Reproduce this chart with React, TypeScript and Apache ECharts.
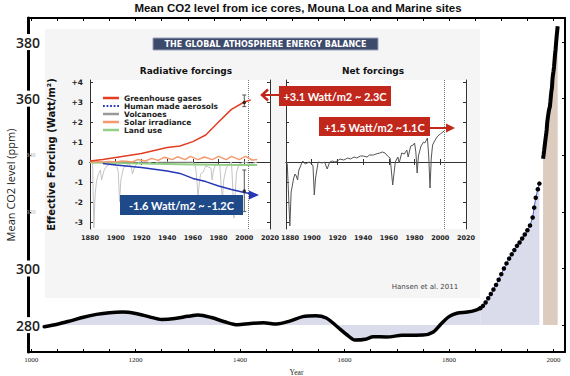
import React, { useEffect, useRef } from "react";
import * as echarts from "echarts";

// ---------- main chart data (year, ppm) ----------
const iceCoreEarly: [number, number][] = [
  [1025, 279.4], [1050, 280.3], [1075, 281.5], [1100, 282.8], [1125, 283.8], [1150, 284.4],
  [1175, 284.6], [1200, 284.1], [1225, 283.0], [1250, 282.0], [1275, 282.3], [1300, 283.1],
  [1320, 283.6], [1345, 282.7], [1370, 281.2], [1395, 280.1], [1420, 280.6], [1445, 280.8],
  [1470, 280.4], [1495, 281.4], [1520, 283.0], [1545, 283.3], [1565, 282.5], [1585, 279.6],
  [1605, 276.5], [1620, 274.7], [1640, 275.0], [1655, 275.9], [1680, 275.8], [1710, 276.4],
  [1750, 276.5], [1770, 277.6], [1785, 280.5], [1800, 283.0], [1815, 284.2], [1835, 284.6],
  [1850, 285.2], [1860, 286.0],
];
const iceCoreLate: [number, number][] = [
  [1860, 286.0], [1865, 286.8], [1870, 288.0], [1875, 289.5], [1880, 291.0], [1885, 292.6],
  [1890, 294.2], [1895, 296.0], [1900, 298.0], [1905, 300.0], [1910, 301.8], [1915, 303.5],
  [1920, 305.0], [1925, 306.5], [1930, 308.0], [1935, 309.2], [1940, 310.6], [1945, 312.0],
  [1950, 313.5], [1955, 315.2], [1960, 318.0], [1963, 321.5], [1966, 325.0], [1970, 328.0],
  [1973, 330.0],
];
const maunaLoa: [number, number][] = [
  [1980, 338.8], [1981, 340.1], [1982, 341.5], [1983, 343.1], [1984, 344.7], [1985, 346.1],
  [1986, 347.4], [1987, 349.2], [1988, 351.6], [1989, 353.1], [1990, 354.4], [1991, 355.6],
  [1992, 356.5], [1993, 357.1], [1994, 358.9], [1995, 360.9], [1996, 362.7], [1997, 363.8],
  [1998, 366.8], [1999, 368.5], [2000, 369.7], [2001, 371.3], [2002, 373.5], [2003, 375.8],
  [2004, 377.5], [2005, 379.8], [2006, 381.9], [2007, 383.8], [2008, 385.6],
];
const co2Labels = [280, 300, 320, 340, 360, 380];
const co2Ticks = [280, 300, 320, 340, 360, 380];
const yearLabels = [1000, 1200, 1400, 1600, 1800, 2000];
const yearTicks = [1000, 1050, 1100, 1150, 1200, 1250, 1300, 1350, 1400, 1450, 1500, 1550, 1600,
  1650, 1700, 1750, 1800, 1850, 1900, 1950, 2000];

// ---------- inset data (year, W/m2) ----------
const greenhouse: [number, number][] = [
  [1880, 0.05], [1890, 0.12], [1900, 0.23], [1910, 0.33], [1920, 0.43], [1930, 0.58],
  [1940, 0.73], [1950, 0.8], [1960, 1.02], [1970, 1.35], [1980, 2.0], [1990, 2.63],
  [2000, 3.0], [2005, 3.1],
];
const aerosols: [number, number][] = [
  [1890, -0.07], [1900, -0.15], [1910, -0.21], [1920, -0.27], [1930, -0.36], [1940, -0.45],
  [1950, -0.57], [1960, -0.82], [1970, -0.98], [1980, -1.2], [1990, -1.37], [2000, -1.52],
  [2010, -1.65],
];
const volcanoes: [number, number][] = [
  [1880, 0], [1882, 0], [1883, -3.3], [1884, -1.6], [1885, -1.0], [1886, -0.7], [1888, -0.4],
  [1889, -0.9], [1891, -0.4], [1893, -0.2], [1896, -0.1], [1900, 0], [1902, -0.5], [1903, -2.0],
  [1904, -0.9], [1906, -0.3], [1908, -0.2], [1910, -0.1], [1912, -0.2], [1913, -0.6],
  [1915, -0.2], [1918, 0], [1925, 0], [1930, -0.1], [1933, 0], [1950, 0], [1960, 0],
  [1962, -0.2], [1963, -0.8], [1964, -1.7], [1965, -1.1], [1966, -0.6], [1968, -0.5],
  [1970, -0.2], [1974, -0.3], [1975, -0.9], [1976, -0.4], [1978, -0.1], [1981, -0.2],
  [1982, -1.2], [1983, -1.9], [1984, -0.9], [1986, -0.3], [1988, -0.1], [1990, 0],
  [1991, -1.2], [1992, -2.8], [1993, -1.5], [1994, -0.5], [1996, -0.1], [2000, 0],
  [2005, -0.1], [2010, 0],
];
const solar: [number, number][] = [
  [1880, 0.0], [1885, 0.02], [1890, 0.0], [1895, 0.03], [1900, 0.0], [1905, 0.05], [1910, 0.02],
  [1913, 0.0], [1917, 0.12], [1923, 0.05], [1928, 0.18], [1933, 0.08], [1938, 0.24], [1944, 0.12],
  [1948, 0.26], [1954, 0.12], [1958, 0.28], [1964, 0.12], [1969, 0.25], [1975, 0.12], [1980, 0.28],
  [1986, 0.12], [1990, 0.28], [1996, 0.12], [2001, 0.28], [2006, 0.1], [2010, 0.12],
];
const landUse: [number, number][] = [
  [1880, -0.02], [1900, -0.05], [1920, -0.08], [1940, -0.1], [1960, -0.12], [1980, -0.14],
  [2000, -0.15], [2010, -0.15],
];
const netForcing: [number, number][] = [
  [1880, 0], [1881, -0.1], [1883, -3.2], [1884, -1.5], [1886, -0.8], [1887, -0.6], [1888, -0.7],
  [1889, -0.9], [1890, -0.4], [1893, 0.05], [1895, -0.1], [1898, 0.0], [1900, -0.1], [1901, -0.2],
  [1902, -1.65], [1903, -0.8], [1905, 0.0], [1908, -0.05], [1910, 0.0], [1912, -0.35], [1914, 0.0],
  [1916, 0.05], [1918, 0.0], [1920, 0.05], [1922, 0.15], [1925, 0.1], [1928, 0.2], [1930, 0.15],
  [1933, 0.25], [1935, 0.2], [1938, 0.3], [1940, 0.3], [1943, 0.25], [1945, 0.35], [1948, 0.35],
  [1950, 0.4], [1953, 0.45], [1955, 0.5], [1957, 0.45], [1959, 0.3], [1961, 0.2], [1963, -1.15],
  [1965, 0.0], [1967, 0.25], [1968, -0.05], [1970, 0.45], [1972, 0.4], [1974, 0.6], [1975, 0.25],
  [1977, 0.8], [1979, 0.85], [1980, 0.95], [1981, 0.5], [1982, -0.55], [1983, 0.3], [1985, 0.8],
  [1987, 1.0], [1988, 0.95], [1990, 1.2], [1991, 0.3], [1992, -1.3], [1993, 0.2], [1994, 0.85],
  [1996, 1.1], [1998, 1.3], [2000, 1.4], [2003, 1.55],
];
const ghgErrorBar: [number, number][] = [[2000, 2.77], [2000, 3.35]];
const aerosolErrorBar: [number, number][] = [[2000, -0.4], [2000, -2.48]];
const bestEstimates: [number, number][] = [[2000, 2.98], [2000, -1.45]];
const forcingTicks = [-3, -2, -1, 0, 1, 2, 3, 4];
const markerYear = 2003;

const F = "DejaVu Sans";
const DOTTED = "path://M0 0h2v2H0zM4 0h2v2H4zM8 0h2v2H8zM12 0h2v2h-2zM16 0h2v2h-2z";

function insetX(grid: number, labels: boolean, top: boolean, shiftFirst = false) {
  const base = { fontFamily: F, fontSize: 6.5, fontWeight: "bold", color: "#222" };
  return {
    type: "value", gridIndex: grid, min: 1880, max: 2020, interval: 20,
    position: top ? "top" : "bottom", z: 5,
    axisLine: { show: true, lineStyle: { color: "#333", width: 1 } },
    axisTick: { show: true, inside: true, length: 3, lineStyle: { color: "#333" } },
    axisLabel: {
      show: labels, ...base, margin: 5,
      formatter: (v: number) => (shiftFirst && v === 1880 ? "{p|" + v + "}" : String(v)),
      rich: { p: { ...base, padding: [0, 0, 0, 8] } },
    },
    splitLine: { show: false },
  };
}
function insetY(grid: number, right: boolean, labels: boolean, name?: string) {
  return {
    type: "value", gridIndex: grid, min: -3.35, max: 4.1, position: right ? "right" : "left", z: 5,
    axisLine: { show: true, lineStyle: { color: "#333", width: 1 } },
    axisTick: { show: true, inside: true, length: 3, customValues: forcingTicks, lineStyle: { color: "#333" } },
    axisLabel: {
      show: labels, customValues: forcingTicks, fontFamily: F, fontSize: 7.5, fontWeight: "bold",
      color: "#222", margin: 7, formatter: (v: number) => (v > 0 ? "+" + v : String(v)),
    },
    splitLine: { show: false },
    name: name, nameLocation: "middle", nameGap: 34, nameMoveOverlap: false,
    nameTextStyle: { fontFamily: F, fontSize: 10, fontWeight: "bold", color: "#111" },
  };
}

export default function App() {
  const ref = useRef<HTMLDivElement>(null);
  useEffect(() => {
    if (!ref.current) return;
    const chart = echarts.init(ref.current, undefined, { renderer: "svg" });
    const zeroAndMarker = {
      silent: true, symbol: "none", label: { show: false },
      data: [
        { yAxis: 0, lineStyle: { color: "#555", width: 1, type: "solid" } },
        { xAxis: markerYear, lineStyle: { color: "#777", width: 1, type: "dotted" } },
      ],
    };
    const insetLine = (name: string | undefined, data: [number, number][], color: string, width: number, xi: number, extra: any = {}) => ({
      name, type: "line", xAxisIndex: xi, yAxisIndex: xi, data, symbol: "none", z: 6,
      lineStyle: { color, width }, itemStyle: { color }, ...extra,
    });
    chart.setOption({
      animation: false,
      grid: [
        { left: 28, top: 18, width: 537, height: 334, z: 2, outerBoundsMode: "none", containLabel: false },
        { left: 90, top: 80, width: 180, height: 149, show: true, backgroundColor: "#fff", borderWidth: 0, z: 4, outerBoundsMode: "none", containLabel: false },
        { left: 286, top: 80, width: 180, height: 149, show: true, backgroundColor: "#fff", borderWidth: 0, z: 4, outerBoundsMode: "none", containLabel: false },
      ],
      legend: {
        data: [
          { name: "Greenhouse gases" },
          { name: "Human made aerosols", icon: DOTTED },
          { name: "Volcanoes", itemStyle: { color: "#999" } },
          { name: "Solar irradiance" },
          { name: "Land use" },
        ],
        icon: "rect",
        orient: "vertical", left: 98, top: 89, itemWidth: 16, itemHeight: 2.5, itemGap: 0,
        selectedMode: false, z: 7,
        textStyle: { fontFamily: F, fontSize: 7.5, fontWeight: "bold", color: "#222", lineHeight: 8 },
      },
      xAxis: [
        {
          type: "value", gridIndex: 0, min: 994, max: 2022, position: "bottom",
          axisLine: { lineStyle: { color: "#000", width: 2 } },
          axisTick: { inside: true, length: 3, customValues: yearTicks, lineStyle: { color: "#000" } },
          axisLabel: { customValues: yearLabels, fontFamily: "Liberation Serif", fontSize: 7, color: "#222", margin: 4, formatter: (v: number) => String(v) },
          splitLine: { show: false },
          name: "Year", nameLocation: "middle", nameGap: 16, nameMoveOverlap: false,
          nameTextStyle: { fontFamily: "Liberation Serif", fontSize: 7.5, color: "#222" },
        },
        {
          type: "value", gridIndex: 0, min: 994, max: 2022, position: "top",
          axisLine: { lineStyle: { color: "#000", width: 2 } },
          axisTick: { inside: true, length: 3, customValues: yearTicks, lineStyle: { color: "#000" } },
          axisLabel: { show: false }, splitLine: { show: false },
        },
        insetX(1, true, false), insetX(1, false, true),
        insetX(2, true, false, true), insetX(2, false, true),
      ],
      yAxis: [
        {
          type: "value", gridIndex: 0, min: 270.5, max: 388.5, position: "left", z: 4,
          axisLine: { lineStyle: { color: "#000", width: 3 } },
          axisTick: { inside: true, length: 3, customValues: co2Ticks, lineStyle: { color: "#000" } },
          axisLabel: {
            customValues: co2Labels, margin: 0, align: "center",
            formatter: (v: number) => (v === 320 || v === 340 ? "{s|" + v + "}" : "{b|" + v + "}"),
            rich: {
              b: { fontFamily: "Open Sans", fontSize: 14, fontWeight: 600, color: "#222", backgroundColor: "#fff", padding: [1, 1] },
              s: { fontFamily: F, fontSize: 5, color: "#aaa", padding: [0, 0, 0, 6] },
            },
          },
          splitLine: { show: false },
          name: "Mean CO2 level (ppm)", nameLocation: "middle", nameGap: 12, nameMoveOverlap: false,
          nameTextStyle: { fontFamily: "Open Sans", fontSize: 11, color: "#222" },
        },
        {
          type: "value", gridIndex: 0, min: 270.5, max: 388.5, position: "right",
          axisLine: { lineStyle: { color: "#000", width: 2 } },
          axisTick: { inside: true, length: 3, customValues: co2Ticks, lineStyle: { color: "#000" } },
          axisLabel: { show: false }, splitLine: { show: false },
        },
        insetY(1, false, true, "Effective Forcing (Watt/m²)"), insetY(1, true, false),
        insetY(2, false, false), insetY(2, true, false),
      ],
      series: [
        {
          type: "line", xAxisIndex: 0, yAxisIndex: 0, data: iceCoreEarly, smooth: 0.3, symbol: "none", z: 2,
          lineStyle: { color: "#000", width: 3.5, cap: "round", join: "round" },
          areaStyle: { origin: 280, color: "#dadbeb", opacity: 1 },
        },
        {
          type: "line", xAxisIndex: 0, yAxisIndex: 0, data: iceCoreLate, symbol: "circle", symbolSize: 4.5,
          showAllSymbol: true, z: 2, itemStyle: { color: "#000" },
          lineStyle: { color: "#4b5fd6", width: 1 },
          areaStyle: { origin: 280, color: "#dadbeb", opacity: 1 },
        },
        {
          type: "line", xAxisIndex: 0, yAxisIndex: 0, data: maunaLoa, symbol: "none", z: 2,
          lineStyle: { color: "#000", width: 4 },
          areaStyle: { origin: 280, color: "#dccbbf", opacity: 1 },
        },
        insetLine("Volcanoes", volcanoes, "#c4c4c4", 1, 2, { markLine: zeroAndMarker }),
        insetLine("Land use", landUse, "#93cf86", 2, 2),
        insetLine("Solar irradiance", solar, "#f39a6f", 1.5, 2),
        insetLine("Greenhouse gases", greenhouse, "#e33d22", 1.5, 2),
        insetLine("Human made aerosols", aerosols, "#2638b8", 1.5, 2),
        insetLine(undefined, ghgErrorBar, "#555", 1, 2, { symbol: "rect", symbolSize: [4, 1] }),
        insetLine(undefined, aerosolErrorBar, "#555", 1, 2, { symbol: "rect", symbolSize: [4, 1] }),
        { type: "scatter", xAxisIndex: 2, yAxisIndex: 2, data: bestEstimates, symbolSize: 3.5, itemStyle: { color: "#111" }, z: 7 },
        insetLine(undefined, netForcing, "#555", 1, 4, { markLine: zeroAndMarker }),
      ],
      graphic: [
        {
          type: "text", z: 9,
          style: { text: "Mean CO2 level from ice cores, Mouna Loa and Marine sites", x: 298, y: 8,
            font: "bold 11.5px 'Liberation Sans'", fill: "#111", textAlign: "center", textVerticalAlign: "middle" },
        },
        { type: "rect", z: 3, shape: { x: 45, y: 29, width: 435, height: 269 }, style: { fill: "#f5f5f6" } },
        { type: "rect", z: 8, shape: { x: 153, y: 38, width: 225, height: 12 }, style: { fill: "#3c4a6c", stroke: "#9aa1b8", lineWidth: 1 } },
        {
          type: "text", z: 9,
          style: { text: "THE GLOBAL ATHOSPHERE ENERGY BALANCE", x: 265.5, y: 44.5, font: "bold 8px 'DejaVu Sans'",
            fill: "#fff", textAlign: "center", textVerticalAlign: "middle" },
        },
        {
          type: "text", z: 9,
          style: { text: "Radiative forcings", x: 186, y: 71, font: "bold 9px 'DejaVu Sans'", fill: "#111",
            textAlign: "center", textVerticalAlign: "middle" },
        },
        {
          type: "text", z: 9,
          style: { text: "Net forcings", x: 373, y: 71, font: "bold 9px 'DejaVu Sans'", fill: "#111",
            textAlign: "center", textVerticalAlign: "middle" },
        },
        {
          type: "text", z: 9,
          style: { text: "Hansen et al. 2011", x: 425, y: 287, font: "7px 'DejaVu Sans'", fill: "#444",
            textAlign: "center", textVerticalAlign: "middle" },
        },
        // red box 1
        { type: "polyline", z: 8, shape: { points: [[279, 95], [263, 95]] }, style: { stroke: "#c1271b", lineWidth: 2, fill: "none" } },
        { type: "polyline", z: 8, shape: { points: [[268, 89.5], [262, 95], [268, 100.5]] }, style: { stroke: "#c1271b", lineWidth: 2.5, fill: "none" } },
        { type: "rect", z: 8, shape: { x: 279, y: 86, width: 112, height: 20 }, style: { fill: "#c1271b" } },
        {
          type: "text", z: 9,
          style: { text: "+3.1 Watt/m2 ~ 2.3C", x: 335, y: 96.5, font: "bold 11px Lato", fill: "#fff",
            textAlign: "center", textVerticalAlign: "middle" },
        },
        // red box 2
        { type: "polyline", z: 8, shape: { points: [[430, 128], [450, 128]] }, style: { stroke: "#c1271b", lineWidth: 2, fill: "none" } },
        { type: "polygon", z: 8, shape: { points: [[455, 128], [446, 123.5], [446, 132.5]] }, style: { fill: "#c1271b" } },
        { type: "rect", z: 8, shape: { x: 319, y: 117, width: 111, height: 19 }, style: { fill: "#c1271b" } },
        {
          type: "text", z: 9,
          style: { text: "+1.5 Watt/m2 ~1.1C", x: 374.5, y: 127, font: "bold 11px Lato", fill: "#fff",
            textAlign: "center", textVerticalAlign: "middle" },
        },
        // blue box
        { type: "polygon", z: 8, shape: { points: [[259, 195], [249, 190.5], [249, 199.5]] }, style: { fill: "#2638b8" } },
        { type: "rect", z: 8, shape: { x: 120, y: 195, width: 123, height: 20 }, style: { fill: "#1f4a8a" } },
        {
          type: "text", z: 9,
          style: { text: "-1.6 Watt/m2 ~ -1.2C", x: 181.5, y: 205.5, font: "bold 11px Lato", fill: "#fff",
            textAlign: "center", textVerticalAlign: "middle" },
        },
      ],
    });
    return () => chart.dispose();
  }, []);
  return <div ref={ref} style={{ position: "fixed", left: 0, top: 0, width: 570, height: 376, background: "#fff" }} />;
}
